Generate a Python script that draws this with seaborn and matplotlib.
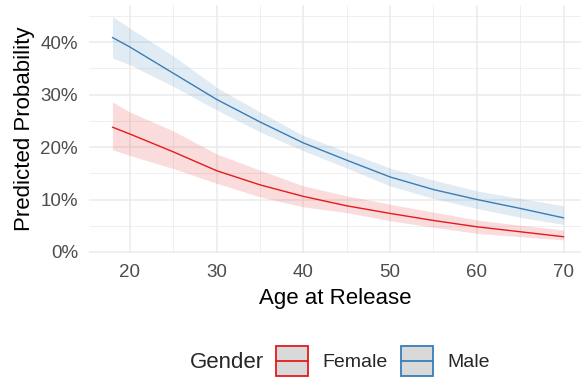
import numpy as np
import pandas as pd
import matplotlib
matplotlib.use("Agg")
import matplotlib.pyplot as plt
from matplotlib.patches import Rectangle
from matplotlib.lines import Line2D
from matplotlib.legend_handler import HandlerBase
from matplotlib.ticker import PercentFormatter, MultipleLocator
import seaborn as sns

# Predicted probability by age at release, with 95% confidence bands
ages = [18, 20, 25, 30, 35, 40, 45, 50, 55, 60, 65, 70]
female_fit = [0.238, 0.225, 0.191, 0.155, 0.128, 0.106, 0.088, 0.0735, 0.060, 0.048, 0.0385, 0.029]
female_lo = [0.195, 0.184, 0.159, 0.131, 0.105, 0.086, 0.075, 0.0595, 0.047, 0.0355, 0.029, 0.023]
female_hi = [0.286, 0.267, 0.231, 0.187, 0.156, 0.126, 0.107, 0.091, 0.076, 0.061, 0.051, 0.042]
male_fit = [0.409, 0.391, 0.341, 0.291, 0.248, 0.208, 0.175, 0.143, 0.119, 0.100, 0.083, 0.065]
male_lo = [0.370, 0.357, 0.316, 0.271, 0.229, 0.193, 0.160, 0.126, 0.102, 0.083, 0.066, 0.0525]
male_hi = [0.449, 0.427, 0.374, 0.314, 0.267, 0.222, 0.191, 0.160, 0.137, 0.1165, 0.102, 0.088]
genders = ["Female", "Male"]
colors = {"Female": "#E41A1C", "Male": "#377EB8"}

df = pd.concat([
    pd.DataFrame({"age": ages, "prob": female_fit, "lo": female_lo, "hi": female_hi, "Gender": "Female"}),
    pd.DataFrame({"age": ages, "prob": male_fit, "lo": male_lo, "hi": male_hi, "Gender": "Male"}),
])

sns.set_theme(style="whitegrid")
plt.rcParams["font.family"] = ["Liberation Sans", "DejaVu Sans"]

fig = plt.figure(figsize=(5.81, 3.77), dpi=100)
ax = fig.add_axes([89 / 581, 1 - 253 / 377, 1 - 89 / 581, (253 - 5) / 377])

for g in genders:
    sub = df[df["Gender"] == g]
    ax.fill_between(sub["age"], sub["lo"], sub["hi"], color=colors[g], alpha=0.15, lw=0, zorder=2)
sns.lineplot(data=df, x="age", y="prob", hue="Gender", palette=colors, lw=1.0,
             legend=False, ax=ax, zorder=3)

ax.set_xlim(15.3, 72.0)
ax.set_ylim(-0.002, 0.471)
ax.xaxis.set_major_locator(MultipleLocator(10))
ax.xaxis.set_minor_locator(MultipleLocator(5))
ax.yaxis.set_major_locator(MultipleLocator(0.10))
ax.yaxis.set_minor_locator(MultipleLocator(0.05))
ax.yaxis.set_major_formatter(PercentFormatter(1.0, decimals=0))
ax.set_facecolor("white")
for s in ax.spines.values():
    s.set_visible(False)
ax.grid(which="major", color="#EBEBEB", lw=1.1)
ax.grid(which="minor", color="#EBEBEB", lw=0.55)
ax.tick_params(which="both", length=0, labelsize=13.5, labelcolor="#4D4D4D", pad=8)
ax.set_xlabel("Age at Release", fontsize=16, color="black", labelpad=5)
ax.set_ylabel("Predicted Probability", fontsize=16, color="black", labelpad=4)


class BoxLineHandler(HandlerBase):
    """Legend key: grey filled box with coloured border and a line through it."""

    def create_artists(self, legend, orig_handle, xdescent, ydescent, width, height,
                       fontsize, trans):
        c = orig_handle.get_color()
        rect = Rectangle((-xdescent, -ydescent), width, height, facecolor="#D9D9D9",
                         edgecolor=c, lw=1.3, transform=trans)
        line = Line2D([-xdescent, -xdescent + width], [-ydescent + height / 2] * 2,
                      color=c, lw=1.3, transform=trans)
        return [rect, line]


handles = [Line2D([], [], color=colors[g]) for g in genders]
fig.text(190 / 581, 1 - 362 / 377, "Gender", fontsize=16, va="center", ha="left")
fig.legend(handles, genders, handler_map={Line2D: BoxLineHandler()},
           loc="center left", bbox_to_anchor=(276 / 581, 1 - 361 / 377), ncol=2,
           frameon=False, fontsize=14, handlelength=1.65, handleheight=2.0,
           handletextpad=0.72, columnspacing=0.72, borderpad=0, borderaxespad=0)

fig.savefig("out.png", dpi=100)
